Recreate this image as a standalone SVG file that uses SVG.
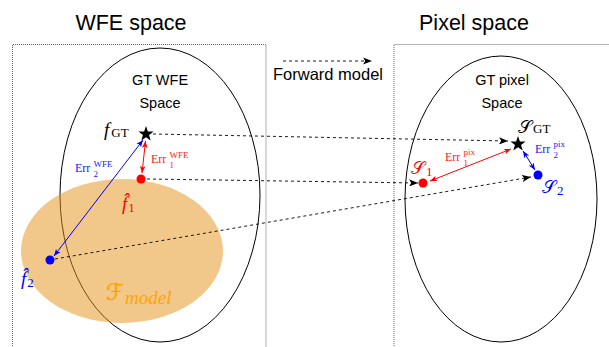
<svg xmlns="http://www.w3.org/2000/svg" width="609" height="347" viewBox="0 0 609 347">
<style>
.title{font-family:"Liberation Sans",Arial,sans-serif;font-size:21.5px;fill:#000}
.sans{font-family:"Liberation Sans",Arial,sans-serif;fill:#000}
.mi{font-family:"Liberation Serif","DejaVu Serif",serif;font-style:italic}
.rm{font-family:"Liberation Serif","DejaVu Serif",serif}
.cal{font-family:"DejaVu Sans","Noto Sans",serif;font-style:normal}
.box{fill:none;stroke:#555;stroke-width:0.9;stroke-dasharray:1 1}
.ell{fill:none;stroke:#000;stroke-width:1}
.dash{fill:none;stroke:#000;stroke-width:0.9;stroke-dasharray:3 3}
.red{fill:#ff0000}
.blue{fill:#0000ff}
.errR{fill:#ff2020}
.errB{fill:#2020ff}
</style>
<defs>
<marker id="ah" viewBox="0 0 10 8" refX="10" refY="4" markerWidth="9" markerHeight="7.2" orient="auto" markerUnits="userSpaceOnUse"><path d="M0,0 L10,4 L0,8 L2.5,4 z" fill="#000"/></marker>
<marker id="ahR" viewBox="0 0 10 8" refX="10" refY="4" markerWidth="7" markerHeight="5.6" orient="auto-start-reverse" markerUnits="userSpaceOnUse"><path d="M0,0 L10,4 L0,8 L2.5,4 z" fill="#ff0000"/></marker>
<marker id="ahB" viewBox="0 0 10 8" refX="10" refY="4" markerWidth="7" markerHeight="5.6" orient="auto-start-reverse" markerUnits="userSpaceOnUse"><path d="M0,0 L10,4 L0,8 L2.5,4 z" fill="#0000ff"/></marker>
<path id="star" d="M0,-8 L1.881,-2.589 L7.608,-2.472 L3.043,0.989 L4.702,6.472 L0,3.2 L-4.702,6.472 L-3.043,0.989 L-7.608,-2.472 L-1.881,-2.589 Z" fill="#000"/>
</defs>

<g id="titles">
<text class="title" x="131" y="30" text-anchor="middle">WFE space</text>
<text class="title" x="474" y="30" text-anchor="middle">Pixel space</text>
</g>

<g id="wfe-space-box"><path class="box" d="M12.5,348 V44.5 H266 V348"/></g>
<g id="pixel-space-box"><path class="box" d="M394,348 V44.5 H610"/></g>

<g id="gt-wfe-space">
<ellipse class="ell" cx="160" cy="195" rx="100" ry="147"/>
<text class="sans" font-size="14.5" x="160" y="85" text-anchor="middle">GT WFE</text>
<text class="sans" font-size="14.5" x="160" y="108" text-anchor="middle">Space</text>
</g>

<g id="f-model">
<ellipse cx="122" cy="251" rx="101" ry="72" fill="rgb(229,145,21)" fill-opacity="0.5"/>
<text x="106" y="300" fill="#ffa500"><tspan class="cal" font-size="23" stroke="#ffa500" stroke-width="0.4">ℱ</tspan><tspan class="mi" font-size="19" dx="1" dy="4">model</tspan></text>
</g>

<g id="gt-pixel-space">
<ellipse class="ell" cx="501" cy="199" rx="96" ry="143"/>
<text class="sans" font-size="14.5" x="502" y="85" text-anchor="middle">GT pixel</text>
<text class="sans" font-size="14.5" x="502" y="108" text-anchor="middle">Space</text>
</g>

<g id="forward-model">
<line class="dash" x1="283" y1="61" x2="372" y2="61" marker-end="url(#ah)"/>
<text class="sans" font-size="16.5" x="328" y="80" text-anchor="middle">Forward model</text>
</g>

<g id="connectors">
<line class="dash" x1="153" y1="134" x2="508" y2="141" marker-end="url(#ah)"/>
<line class="dash" x1="147" y1="179" x2="418" y2="183" marker-end="url(#ah)"/>
<line class="dash" x1="55" y1="259" x2="531" y2="177" marker-end="url(#ah)"/>
<line x1="143" y1="140" x2="54" y2="256" stroke="#0000ff" stroke-width="1" marker-start="url(#ahB)" marker-end="url(#ahB)"/>
<line x1="145.5" y1="141" x2="142" y2="173" stroke="#ff0000" stroke-width="1" marker-start="url(#ahR)" marker-end="url(#ahR)"/>
<line x1="511" y1="149" x2="430" y2="181" stroke="#ff0000" stroke-width="1" marker-start="url(#ahR)" marker-end="url(#ahR)"/>
<line x1="523" y1="151" x2="535" y2="170" stroke="#0000ff" stroke-width="1" marker-start="url(#ahB)" marker-end="url(#ahB)"/>
</g>

<g id="f-gt">
<use href="#star" x="146" y="134"/>
<text x="104" y="136"><tspan class="mi" font-size="19">f</tspan><tspan class="rm" font-size="13" dx="2" dy="1">GT</tspan></text>
</g>

<g id="f-hat-1">
<circle cx="141" cy="179" r="4.5" class="red"/>
<text class="red" x="122" y="210"><tspan class="mi" font-size="19">f̂</tspan><tspan class="rm" font-size="13" dx="1" dy="2">1</tspan></text>
</g>

<g id="f-hat-2">
<circle cx="50" cy="260" r="4.5" class="blue"/>
<text class="blue" x="21" y="285"><tspan class="mi" font-size="19">f̂</tspan><tspan class="rm" font-size="13" dx="1" dy="2">2</tspan></text>
</g>

<g id="err-wfe-labels">
<text class="errB rm" x="75" y="172" font-size="12">Err</text>
<text class="errB rm" x="93.5" y="167" font-size="9">WFE</text>
<text class="errB rm" x="93.5" y="177" font-size="9">2</text>
<text class="errR rm" x="151" y="163" font-size="12">Err</text>
<text class="errR rm" x="169.5" y="158" font-size="9">WFE</text>
<text class="errR rm" x="169.5" y="168" font-size="9">1</text>
</g>

<g id="s-gt">
<use href="#star" x="518" y="144"/>
<text x="518" y="133"><tspan class="cal" font-size="18">𝒮</tspan><tspan class="rm" font-size="13" dx="1">GT</tspan></text>
</g>

<g id="s-1">
<circle cx="423" cy="183" r="4.5" class="red"/>
<text class="red" x="411" y="174"><tspan class="cal" font-size="18">𝒮</tspan><tspan class="rm" font-size="13" dx="1" dy="2">1</tspan></text>
</g>

<g id="s-2">
<circle cx="538" cy="175" r="4.5" class="blue"/>
<text class="blue" x="542" y="193"><tspan class="cal" font-size="18">𝒮</tspan><tspan class="rm" font-size="13" dx="1" dy="2">2</tspan></text>
</g>

<g id="err-pix-labels">
<text class="errR rm" x="445" y="161" font-size="12">Err</text>
<text class="errR rm" x="463.5" y="155" font-size="9">pix</text>
<text class="errR rm" x="463.5" y="166" font-size="9">1</text>
<text class="errB rm" x="535" y="153" font-size="12">Err</text>
<text class="errB rm" x="553.5" y="147" font-size="9">pix</text>
<text class="errB rm" x="553.5" y="158" font-size="9">2</text>
</g>
</svg>
